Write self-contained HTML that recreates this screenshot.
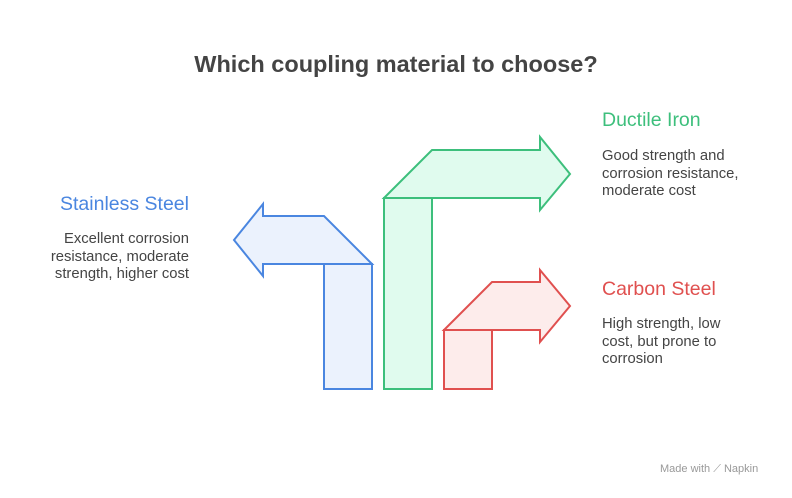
<!DOCTYPE html>
<html><head><style>
body{margin:0;width:792px;height:498px;background:#fff;position:relative;overflow:hidden;font-family:"Liberation Sans",sans-serif}
.t{position:absolute;white-space:nowrap}
.h{font-size:19.5px}
.b{font-size:14.8px;color:#444;line-height:17.5px}
</style></head><body>
<div class="t" style="left:0;width:792px;text-align:center;top:51px;font-size:23.5px;font-weight:bold;color:#444">Which coupling material to choose?</div>
<svg width="792" height="498" style="position:absolute;left:0;top:0">
<g fill="#ebf2fd" stroke="#4a86e0" stroke-width="2">
<polygon points="372,264 324,216 263,216 263,204 234,240 263,276 263,264"/>
<rect x="324" y="264" width="48" height="125"/>
</g>
<g fill="#e0fbee" stroke="#3dbf7c" stroke-width="2">
<polygon points="384,198 432,150 540,150 540,137 570,174 540,210 540,198"/>
<rect x="384" y="198" width="48" height="191"/>
</g>
<g fill="#fdeceb" stroke="#e0504f" stroke-width="2">
<polygon points="444,330 492,282 540,282 540,270 570,306 540,342 540,330"/>
<rect x="444" y="330" width="48" height="59"/>
</g>
</svg>
<div class="t h" style="right:603px;top:193px;color:#4a86e0">Stainless Steel</div>
<div class="t b" style="right:603px;top:231px;text-align:right">Excellent corrosion<br>resistance, moderate<br>strength, higher cost</div>
<div class="t h" style="left:602px;top:109px;color:#3dbf7c">Ductile Iron</div>
<div class="t b" style="left:602px;top:148px">Good strength and<br>corrosion resistance,<br>moderate cost</div>
<div class="t h" style="left:602px;top:278px;color:#e0504f">Carbon Steel</div>
<div class="t b" style="left:602px;top:316px">High strength, low<br>cost, but prone to<br>corrosion</div>
<div class="t" style="left:660px;top:463px;font-size:11px;color:#999">Made with ⟋ Napkin</div>
</body></html>
